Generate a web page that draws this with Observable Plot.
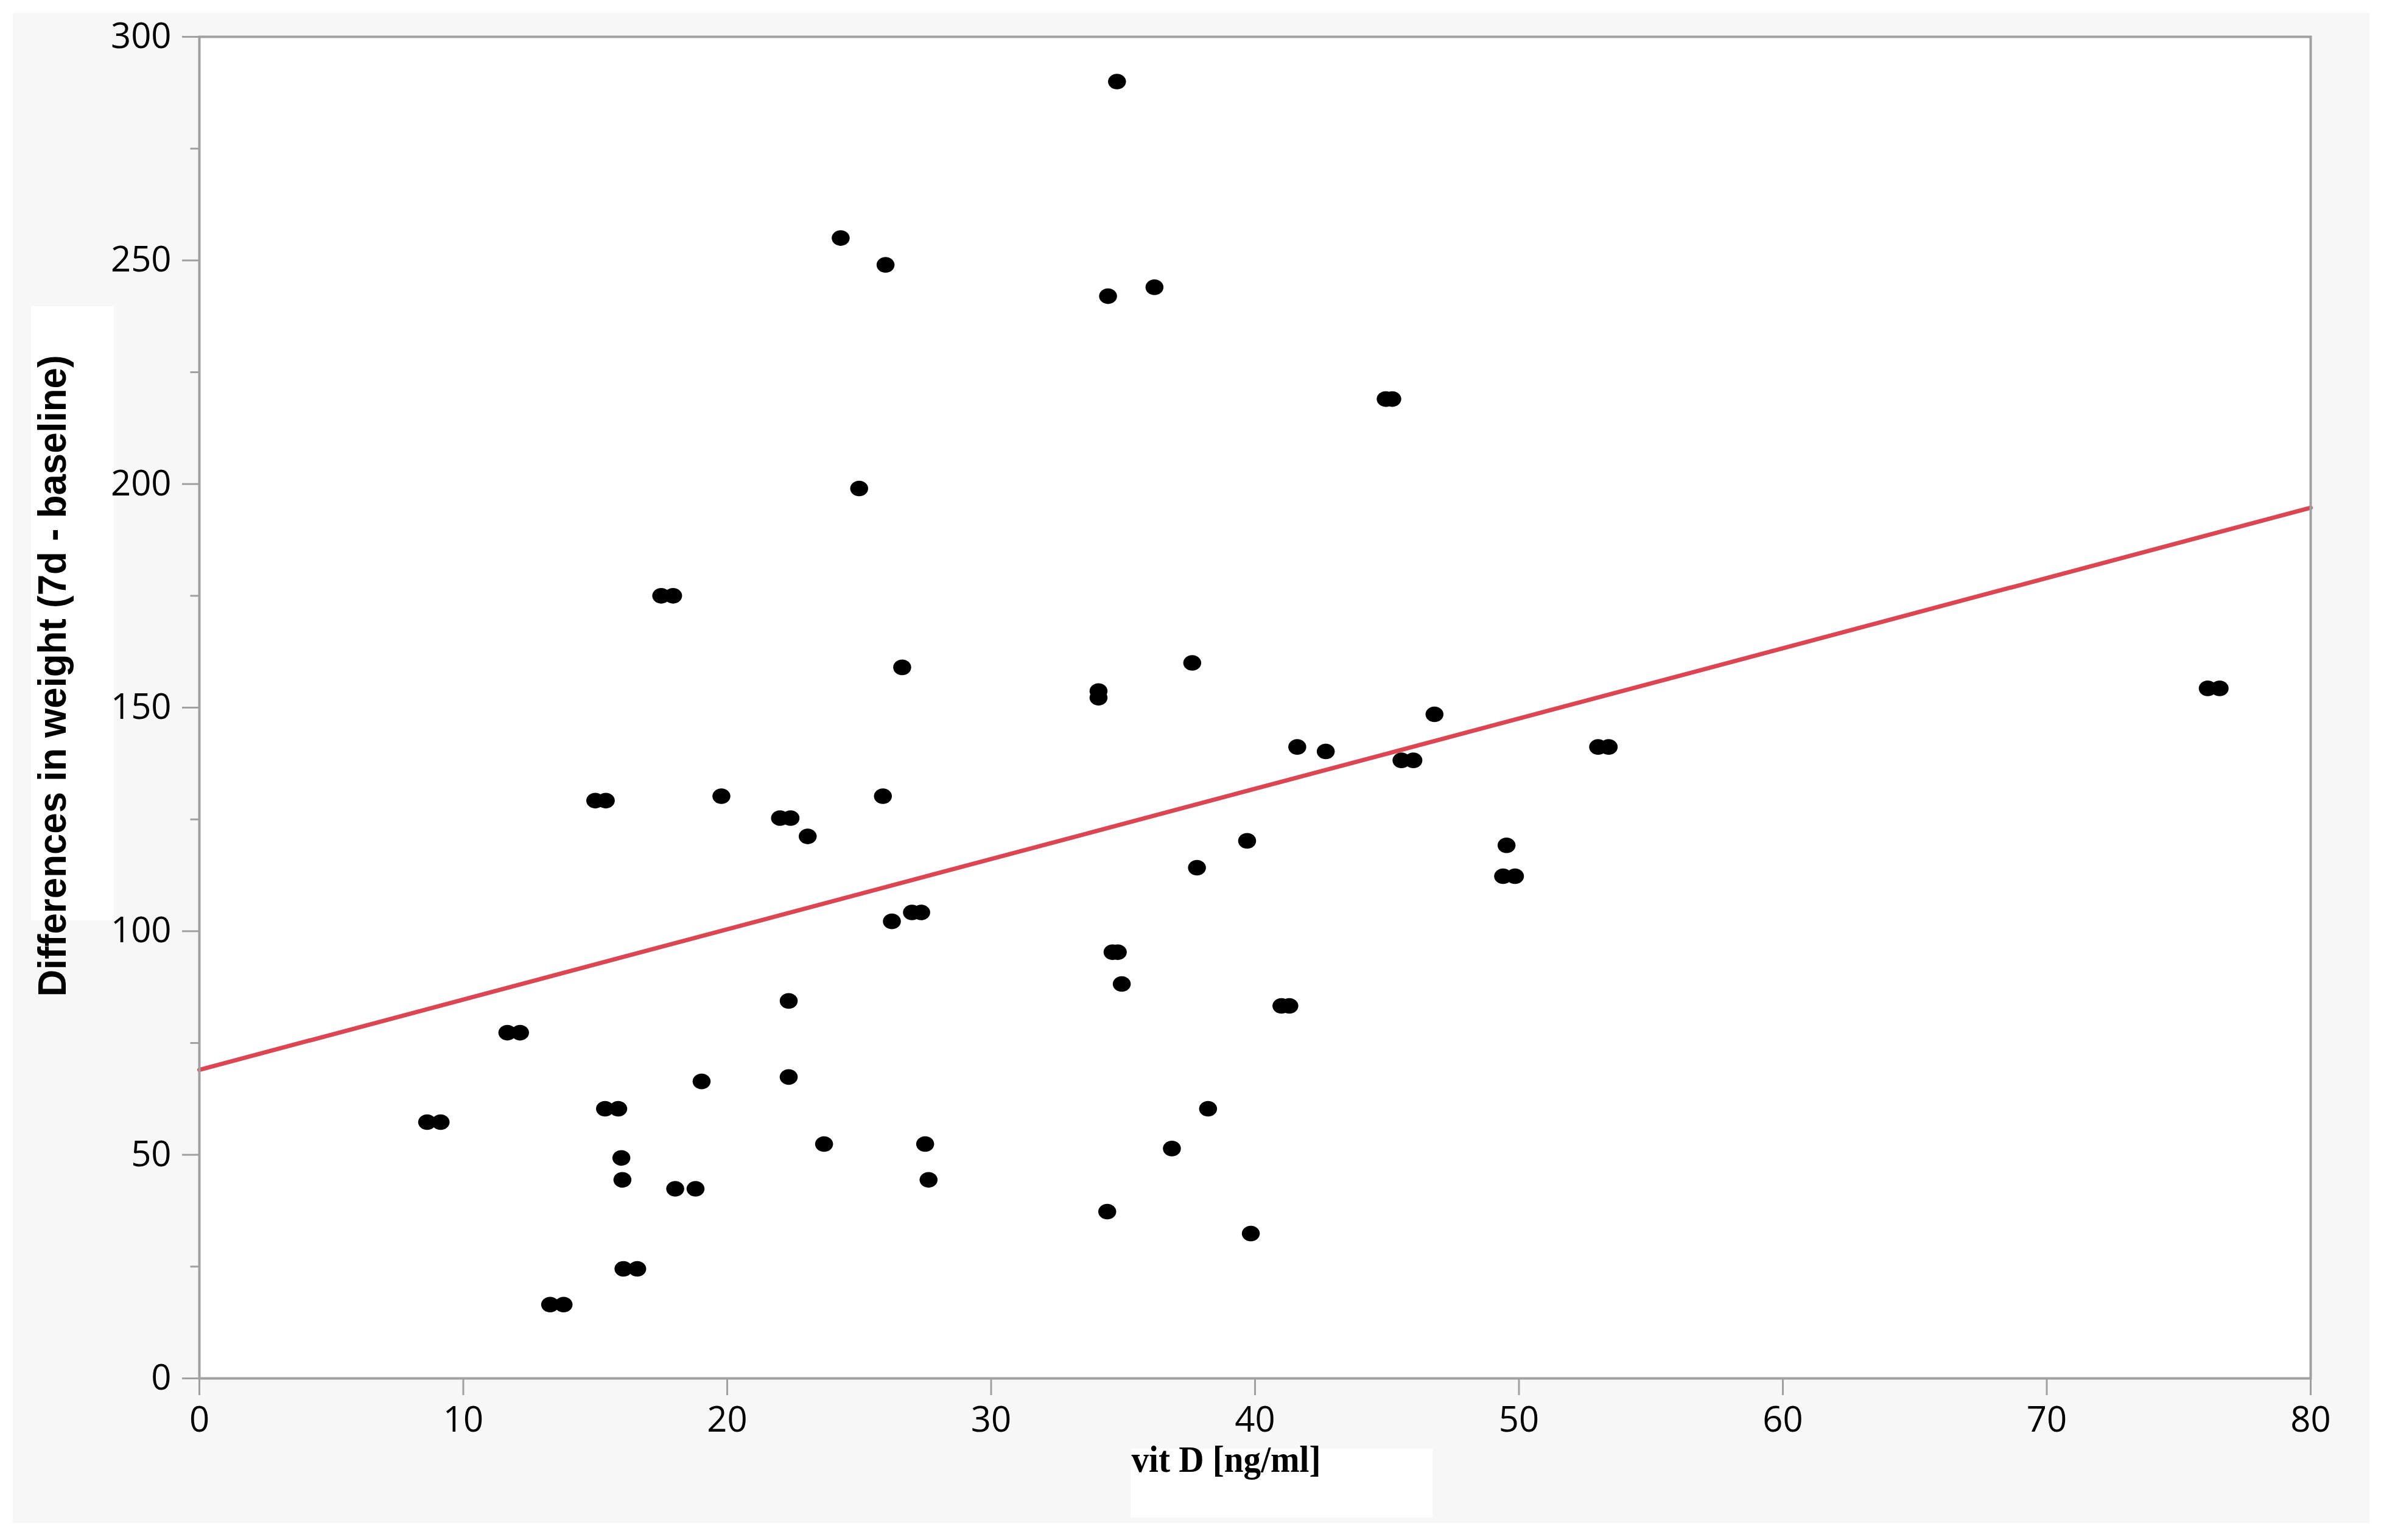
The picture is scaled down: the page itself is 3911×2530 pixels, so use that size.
<!DOCTYPE html>
<html>
<head>
<meta charset="utf-8">
<script src="https://cdn.jsdelivr.net/npm/d3@7"></script>
<script src="https://cdn.jsdelivr.net/npm/@observablehq/plot@0.6"></script>
<style>
  html, body { margin: 0; padding: 0; background: #ffffff; }
  #wrap { position: relative; width: 3911px; height: 2530px; overflow: hidden; }
  #panel { position: absolute; left: 21px; top: 21px; width: 3871px; height: 2481px; background: #f7f7f7; }
  #ybox { position: absolute; left: 51px; top: 503px; width: 136px; height: 1009px; background: #ffffff; }
  #xbox { position: absolute; left: 1857px; top: 2380px; width: 496px; height: 113px; background: #ffffff; }
  #chart { position: absolute; left: 0; top: 0; }
  #chart svg { background: none !important; }
  g[aria-label^="x-axis"] line, g[aria-label^="y-axis"] line,
  g[aria-label="x-axis tick"] path, g[aria-label="y-axis tick"] path {
    stroke: #a0a0a0 !important; stroke-width: 3px !important;
  }
</style>
</head>
<body>
<div id="wrap">
  <div id="panel"></div>
  <div id="ybox"></div>
  <div id="xbox"></div>
  <div id="chart"></div>
</div>
<script>
// ---- data ----
const vitD = [
  34.77, 24.3, 26.0, 34.43, 36.19, 44.95, 45.2, 25.0, 17.5, 17.95,
  26.63, 37.62, 34.07, 34.07, 76.1, 76.55, 46.8, 41.6, 42.68, 53.0,
  53.4, 45.55, 46.0, 15.0, 15.4, 19.78, 25.9, 22.0, 22.4, 23.05,
  39.7, 49.53, 37.8, 49.4, 49.85, 27.0, 27.35, 26.24, 34.6, 34.8,
  34.95, 41.0, 41.3, 22.33, 11.67, 12.15, 19.03, 22.33, 8.63, 9.14,
  15.37, 15.87, 38.22, 15.99, 23.67, 27.5, 36.85, 16.03, 27.63, 18.03,
  18.8, 34.4, 39.84, 16.07, 16.59, 13.29, 13.8
];
const weightDiff = [
  290, 255, 249, 242, 244, 219, 219, 199, 175, 175,
  159, 160, 153.7, 152.2, 154.3, 154.3, 148.5, 141.2, 140.2, 141.2,
  141.2, 138.2, 138.2, 129.2, 129.2, 130.2, 130.2, 125.3, 125.3, 121.2,
  120.2, 119.2, 114.2, 112.3, 112.3, 104.2, 104.2, 102.2, 95.3, 95.3,
  88.2, 83.3, 83.3, 84.4, 77.3, 77.3, 66.4, 67.4, 57.3, 57.3,
  60.3, 60.3, 60.3, 49.3, 52.4, 52.4, 51.4, 44.4, 44.4, 42.4,
  42.4, 37.3, 32.4, 24.5, 24.5, 16.5, 16.5
];
const fitX = [0, 80];
const fitY = [69.0, 194.7];
const xTicks = [0, 10, 20, 30, 40, 50, 60, 70, 80];
const yTicks = [0, 50, 100, 150, 200, 250, 300];
const yMinorTicks = [25, 75, 125, 175, 225, 275];
const xLabel = "vit D [ng/ml]";
const yLabel = "Differences in weight (7d - baseline)";

// ---- build tables ----
const points = vitD.map((x, i) => ({x, y: weightDiff[i]}));
const fit = fitX.map((x, i) => ({x, y: fitY[i]}));

// slightly wide elliptical marker
const ellipse = {
  draw(ctx, size) {
    const r = Math.sqrt(size / Math.PI);
    const rx = r * 1.07, ry = r * 0.93, k = 0.5523;
    ctx.moveTo(rx, 0);
    ctx.bezierCurveTo(rx, ry * k, rx * k, ry, 0, ry);
    ctx.bezierCurveTo(-rx * k, ry, -rx, ry * k, -rx, 0);
    ctx.bezierCurveTo(-rx, -ry * k, -rx * k, -ry, 0, -ry);
    ctx.bezierCurveTo(rx * k, -ry, rx, -ry * k, rx, 0);
    ctx.closePath();
  }
};
// short horizontal tick for minor y ticks
const hTick = {
  draw(ctx, size) {
    ctx.moveTo(-7.5, 0);
    ctx.lineTo(7.5, 0);
  }
};

const W = 3911, H = 2530;
const mL = 327, mR = 116, mT = 60, mB = 266;

const chart = Plot.plot({
  width: W,
  height: H,
  marginLeft: mL,
  marginRight: mR,
  marginTop: mT,
  marginBottom: mB,
  style: {
    fontFamily: "'Open Sans', 'Noto Sans', sans-serif",
    fontSize: "58px",
    color: "#000000",
    background: "none",
    overflow: "visible"
  },
  x: {
    domain: [0, 80],
    ticks: xTicks,
    tickSize: 28,
    tickPadding: 18,
    tickFormat: d => String(d),
    label: null
  },
  y: {
    domain: [0, 300],
    ticks: yTicks,
    tickSize: 28,
    tickPadding: 18,
    tickFormat: d => String(d),
    label: null
  },
  marks: [
    Plot.frame({fill: "#ffffff", stroke: "none"}),
    Plot.dot(yMinorTicks, {x: () => 0, y: d => d, symbol: hTick, r: 4, fill: "none", stroke: "#a0a0a0", strokeWidth: 3, dx: -7.5}),
    Plot.line(fit, {x: "x", y: "y", stroke: "#dc4552", strokeWidth: 7}),
    Plot.dot(points, {x: "x", y: "y", symbol: ellipse, r: 13.8, fill: "#000000", stroke: "none"}),
    Plot.frame({stroke: "#a0a0a0", strokeWidth: 4, fill: "none"}),
    Plot.text([yLabel], {
      text: d => d, frameAnchor: "left", rotate: -90,
      dx: -240, dy: -52,
      fontFamily: "'Liberation Sans', Arial, sans-serif", fontWeight: "bold", fontSize: 65,
      fill: "#000000", textAnchor: "middle"
    }),
    Plot.text([xLabel], {
      text: d => d, frameAnchor: "bottom",
      dx: -47.5, dy: 153,
      fontFamily: "'Liberation Serif', 'Times New Roman', serif", fontWeight: "bold", fontSize: 62,
      fill: "#000000", textAnchor: "middle"
    })
  ]
});

document.getElementById("chart").appendChild(chart);

// condense the axis titles to the reference's measured lengths
chart.querySelectorAll("text").forEach(t => {
  const s = t.textContent;
  if (s === yLabel) { t.setAttribute("textLength", 1054); t.setAttribute("lengthAdjust", "spacingAndGlyphs"); }
  if (s === xLabel) { t.setAttribute("textLength", 311); t.setAttribute("lengthAdjust", "spacingAndGlyphs"); }
});
</script>
</body>
</html>
